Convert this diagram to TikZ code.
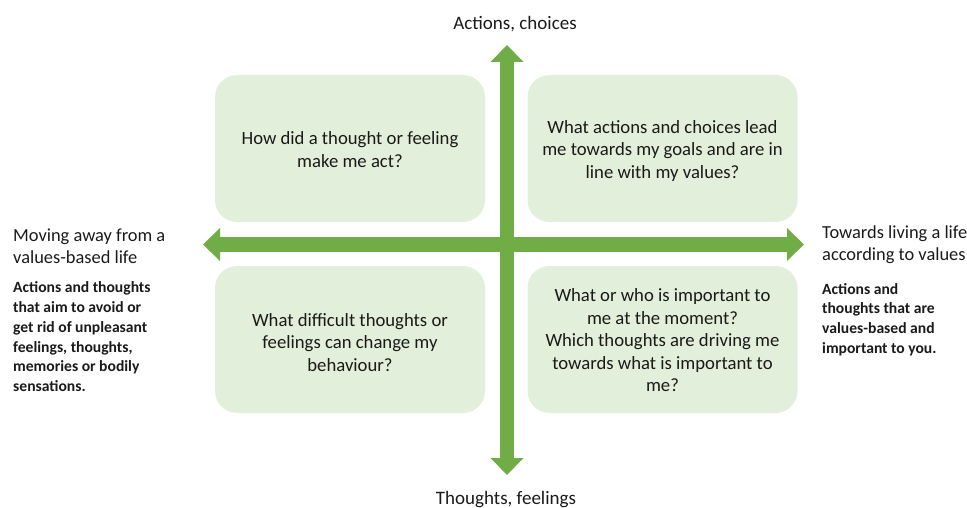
\documentclass[tikz,border=0pt]{standalone}
\usepackage{fontspec}
\setmainfont{Carlito}
\usetikzlibrary{arrows.meta}
\definecolor{axisgreen}{HTML}{70AD47}
\definecolor{boxgreen}{HTML}{E2EFDA}
\definecolor{ink}{HTML}{1A1A1A}
\begin{document}
\begin{tikzpicture}[x=1pt,y=-1pt,
  quad/.style={fill=boxgreen,rounded corners=22pt,minimum width=270pt,minimum height=147pt,
    inner sep=0pt},
  question/.style={align=center,text=ink,font=\fontsize{18.7}{22.5}\selectfont,inner sep=0pt},
  axislabel/.style={text=ink,font=\fontsize{19}{22}\selectfont,inner sep=0pt},
  sidehead/.style={text=ink,align=left,anchor=north west,inner sep=0pt,
    font=\fontsize{18.4}{22}\selectfont},
  sidenote/.style={text=ink,align=left,anchor=north west,inner sep=0pt,
    font=\fontsize{15.6}{19.8}\selectfont\bfseries},
  axis/.style={draw=axisgreen,line width=14.5pt,
    {Triangle[width=32pt,length=17pt]}-{Triangle[width=32pt,length=17pt]}}]
\useasboundingbox (0,0) rectangle (967,508);

% four question boxes
\node[quad] (tl) at (350,148.5) {};
\node[quad] (tr) at (662.5,148.5) {};
\node[quad] (bl) at (350,339.5) {};
\node[quad] (br) at (662.5,339.5) {};

% questions inside the boxes
\node[question] (tlq) at ([yshift=-1pt]tl.center) {How did a thought or feeling\\make me act?};
\node[question] (trq) at ([yshift=-2.5pt]tr.center) {What actions and choices lead\\me towards my goals and are in\\line with my values?};
\node[question] (blq) at ([yshift=-3pt]bl.center) {What difficult thoughts or\\feelings can change my\\behaviour?};
\node[question] (brq) at ([yshift=-1pt]br.center) {What or who is important to\\me at the moment?\\Which thoughts are driving me\\towards what is important to\\me?};

% axis ends
\coordinate (north) at (507,45);
\coordinate (south) at (507,475);
\coordinate (west) at (203,244.5);
\coordinate (east) at (804,244.5);

% the two axes
\draw[axis] (west) -- (east);
\draw[axis] (south) -- (north);

% axis labels
\node[axislabel] (top) at (515,24) {Actions, choices};
\node[axislabel] (bottom) at (506,500) {Thoughts, feelings};

% left side
\node[sidehead] (lhead) at (13,229) {Moving away from a\\values-based life};
\node[sidenote] (lnote) at (13,281.5) {Actions and thoughts\\that aim to avoid or\\get rid of unpleasant\\feelings, thoughts,\\memories or bodily\\sensations.};

% right side
\node[sidehead] (rhead) at (822,226) {Towards living a life\\according to values};
\node[sidenote] (rnote) at (822,283) {Actions and\\thoughts that are\\values-based and\\important to you.};
\end{tikzpicture}
\end{document}
